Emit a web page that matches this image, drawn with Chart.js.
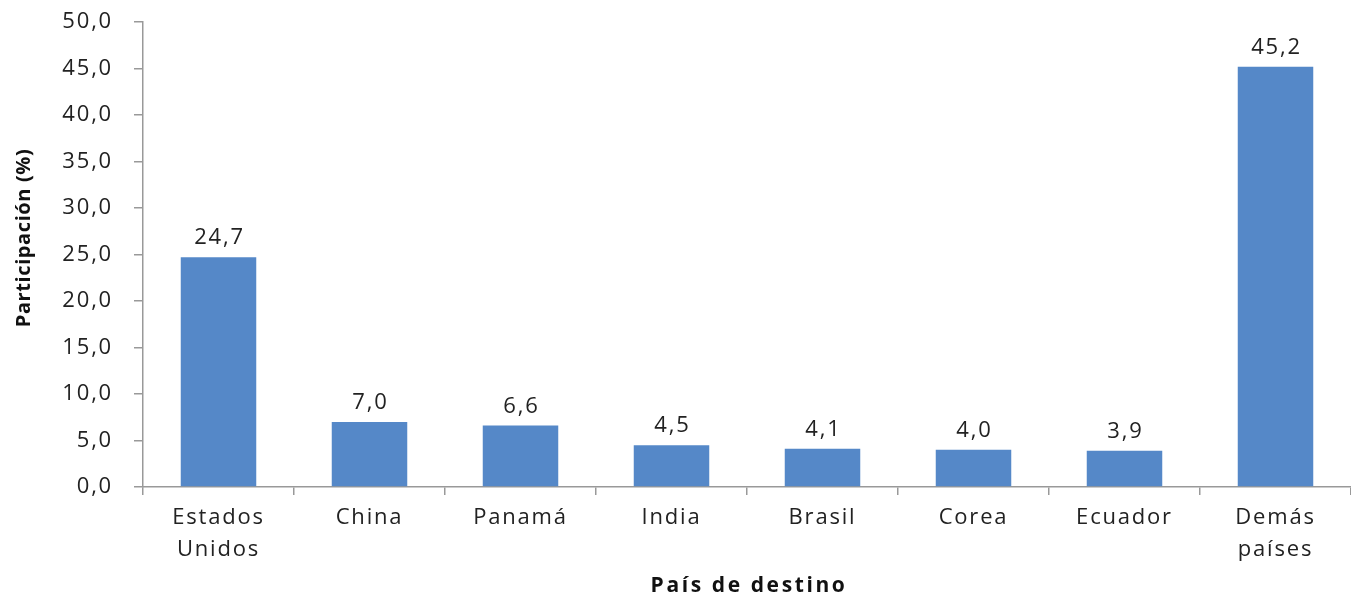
<!DOCTYPE html>
<html><head><meta charset="utf-8">
<script src="https://cdn.jsdelivr.net/npm/chart.js@4/dist/chart.umd.min.js"></script>
<style>html,body{margin:0;padding:0;background:#fff}#wrap{width:1351px;height:595px}</style>
</head><body><div id="wrap"><canvas id="c" width="1351" height="595"></canvas></div>
<script>
const categories = [["Estados","Unidos"],"China","Panamá","India","Brasil","Corea","Ecuador",["Demás","países"]];
const values = [24.7, 7.0, 6.6, 4.5, 4.1, 4.0, 3.9, 45.2];
const yTitle = "Participación (%)";
const xTitle = "País de destino";
const fmt = v => v.toFixed(1).replace('.', ',');
const FONT = "'Open Sans', 'Noto Sans', sans-serif";
const SPACING = '1.8px';

const spacingPlugin = {
  id: 'spacing',
  beforeUpdate(chart) { chart.ctx.letterSpacing = SPACING; },
  beforeLayout(chart) { chart.ctx.letterSpacing = SPACING; },
  beforeDraw(chart) { chart.ctx.letterSpacing = SPACING; }
};

const labelPlugin = {
  id: 'barLabels',
  afterDatasetsDraw(chart) {
    const ctx = chart.ctx;
    const meta = chart.getDatasetMeta(0);
    ctx.save();
    ctx.letterSpacing = SPACING;
    ctx.font = "22px " + FONT;
    ctx.fillStyle = "#222";
    ctx.textAlign = "center";
    ctx.textBaseline = "alphabetic";
    meta.data.forEach((bar, i) => {
      ctx.fillText(fmt(values[i]), bar.x + 1, bar.y - 13);
    });
    ctx.restore();
  },
  afterDraw(chart) {
    const ctx = chart.ctx;
    const area = chart.chartArea;
    ctx.save();
    ctx.fillStyle = "#111";
    ctx.font = "bold 21px " + FONT;
    ctx.letterSpacing = '2.6px';
    ctx.textAlign = "center";
    ctx.textBaseline = "alphabetic";
    ctx.fillText(xTitle, (area.left + area.right) / 2 + 2, 592);
    ctx.font = "bold 20px " + FONT;
    ctx.letterSpacing = '0.6px';
    ctx.translate(30, 238);
    ctx.rotate(-Math.PI / 2);
    ctx.fillText(yTitle, 0, 0);
    ctx.restore();
  }
};

new Chart(document.getElementById('c'), {
  type: 'bar',
  data: { labels: categories, datasets: [{ data: values, backgroundColor: '#5588C8', barPercentage: 0.5, categoryPercentage: 1.0 }] },
  options: {
    responsive: false, animation: false,
    layout: { padding: { top: 22, right: 0, left: 0, bottom: 0 } },
    plugins: { legend: { display: false }, tooltip: { enabled: false } },
    scales: {
      x: {
        afterFit(s) { s.height = 108; s.paddingLeft = 0; s.paddingRight = 0; },
        grid: { drawOnChartArea: false, offset: true, color: '#999', tickLength: 8, lineWidth: 1.5 },
        border: { color: '#999', width: 1.5 },
        ticks: { color: '#222', font: { family: FONT, size: 22, lineHeight: 1.45 }, padding: 7, maxRotation: 0 },
        title: { display: false }
      },
      y: {
        min: 0, max: 50,
        afterFit(s) { s.width = 143; s.paddingTop = 0; s.paddingBottom = 0; },
        grid: { drawOnChartArea: false, color: '#999', tickLength: 9, lineWidth: 1.5 },
        border: { color: '#999', width: 1.5 },
        ticks: { stepSize: 5, color: '#222', padding: 21, font: { family: FONT, size: 22 }, callback: v => fmt(v) },
        title: { display: false }
      }
    }
  },
  plugins: [spacingPlugin, labelPlugin]
});
</script></body></html>
